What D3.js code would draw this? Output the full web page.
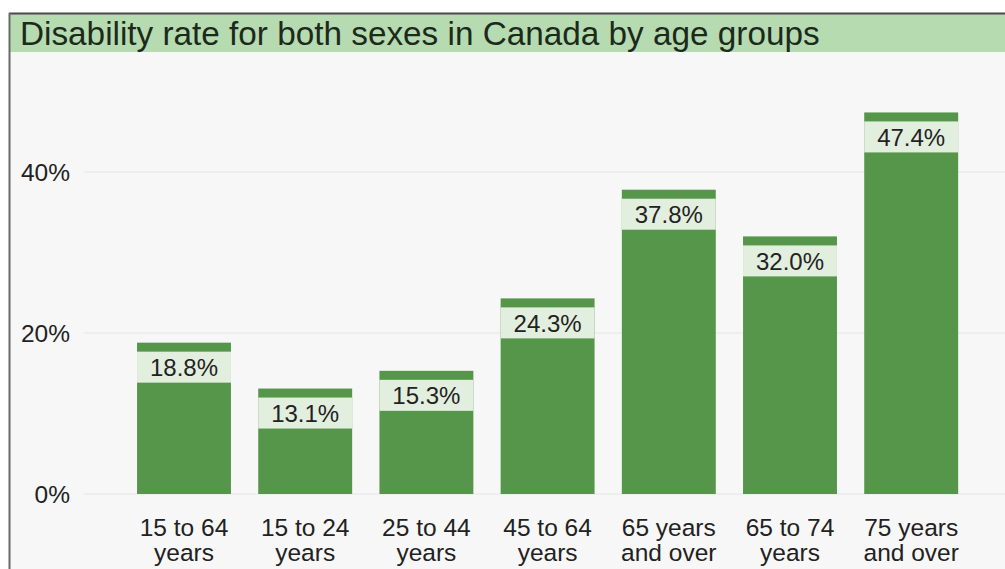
<!DOCTYPE html>
<html><head><meta charset="utf-8">
<script src="https://cdn.jsdelivr.net/npm/d3@7"></script>
<style>html,body{margin:0;padding:0;background:#fff;overflow:hidden}svg{display:block}text{font-family:"Liberation Sans",Arial,sans-serif}</style>
</head><body>
<svg id="c" width="1005" height="569"></svg>
<script>
const categories = [["15 to 64","years"],["15 to 24","years"],["25 to 44","years"],["45 to 64","years"],["65 years","and over"],["65 to 74","years"],["75 years","and over"]];
const values = [18.8, 13.1, 15.3, 24.3, 37.8, 32.0, 47.4];
const yTicks = [0, 20, 40];
const title = "Disability rate for both sexes in Canada by age groups";

const svg = d3.select("#c");
// frame
svg.append("rect").attr("x",10).attr("y",14).attr("width",1000).attr("height",560).attr("fill","#f7f7f7");
svg.append("rect").attr("x",10).attr("y",14).attr("width",1000).attr("height",38).attr("fill","#b7dbb1");
svg.append("line").attr("x1",9).attr("x2",1005).attr("y1",13.5).attr("y2",13.5).attr("stroke","#4a4a4a").attr("stroke-width",2);
svg.append("line").attr("x1",9.5).attr("x2",9.5).attr("y1",13).attr("y2",569).attr("stroke","#6a6a6a").attr("stroke-width",2);
svg.append("text").attr("x",20).attr("y",44.5).attr("font-size",33.3).attr("fill","#1c2a1c").text(title);

const x = d3.scaleBand().domain(d3.range(values.length)).range([123.4, 971.8]).paddingInner(0.225).paddingOuter(0.1125);
const y = d3.scaleLinear().domain([0, 50]).range([494, 494 - 50*8.05]);

// grid
svg.append("g").selectAll("line").data(yTicks).join("line")
  .attr("x1",84).attr("x2",1005).attr("y1",d=>y(d)).attr("y2",d=>y(d))
  .attr("stroke","#ebebeb").attr("stroke-width",1.5);
svg.append("g").selectAll("text").data(yTicks).join("text")
  .attr("x",70).attr("y",d=>y(d)+9).attr("text-anchor","end").attr("font-size",24.5).attr("fill","#222")
  .text(d=>d+"%");

const g = svg.append("g").selectAll("g").data(values).join("g");
g.append("rect").attr("x",(d,i)=>x(i)).attr("width",x.bandwidth())
  .attr("y",d=>y(d)).attr("height",d=>y(0)-y(d)).attr("fill","#55964a");
g.append("rect").attr("x",(d,i)=>x(i)).attr("width",x.bandwidth())
  .attr("y",d=>y(d)+9).attr("height",31).attr("fill","#e2efdf");
g.append("text").attr("x",(d,i)=>x(i)+x.bandwidth()/2).attr("y",d=>y(d)+33.5)
  .attr("text-anchor","middle").attr("font-size",24).attr("fill","#222").text(d=>d.toFixed(1)+"%");

const xl = svg.append("g").selectAll("text").data(categories).join("text")
  .attr("text-anchor","middle").attr("font-size",24.5).attr("fill","#222");
xl.append("tspan").attr("x",(d,i)=>x(i)+x.bandwidth()/2).attr("y",536).text(d=>d[0]);
xl.append("tspan").attr("x",(d,i)=>x(i)+x.bandwidth()/2).attr("y",561).text(d=>d[1]);
</script>
</body></html>
